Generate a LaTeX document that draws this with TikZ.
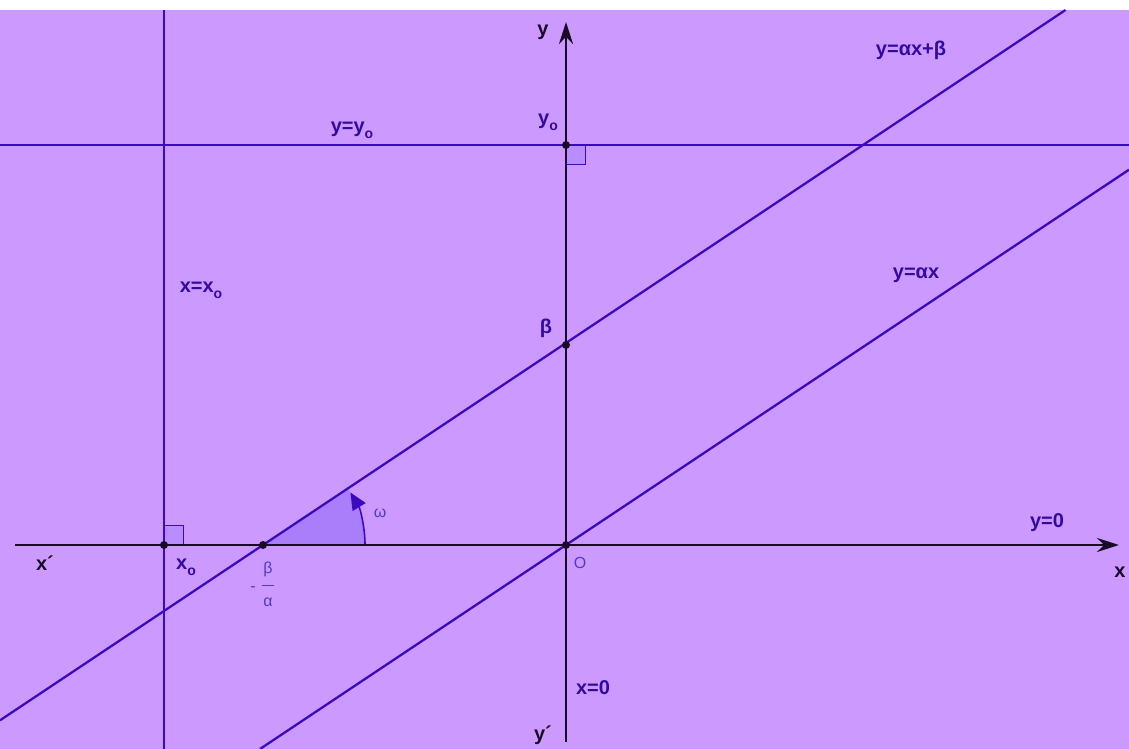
\documentclass[tikz,border=0pt]{standalone}
\usepackage{fontspec}
\setmainfont{Liberation Sans}
\usetikzlibrary{arrows.meta}
\definecolor{bgpurple}{RGB}{204,153,255}
\definecolor{linblue}{RGB}{60,10,190}
\definecolor{labblue}{RGB}{50,10,160}
\definecolor{lightblue}{RGB}{80,60,200}
\definecolor{axisdark}{RGB}{25,10,40}
\definecolor{anglefill}{RGB}{170,125,250}
\definecolor{sqfill}{RGB}{185,140,255}
\newcommand\subo{\raisebox{-0.55ex}{\fontsize{14}{14}\selectfont o}}
\tikzset{
  lin/.style={draw=linblue, line width=2.3pt},
  axisline/.style={draw=axisdark, line width=2.6pt, -{Stealth[length=22pt,width=14pt]}},
  axlab/.style={text=axisdark, font=\fontsize{20}{23}\selectfont\bfseries, inner sep=0pt},
  blab/.style={text=labblue, font=\fontsize{20}{23}\selectfont\bfseries, inner sep=0pt},
  rlab/.style={text=lightblue, font=\fontsize{16}{18}\selectfont, inner sep=0pt},
  dot/.style={circle, fill=axisdark, inner sep=0pt, minimum size=8pt},
  sq/.style={draw=linblue, fill=sqfill, line width=1pt}
}
\begin{document}
\begin{tikzpicture}[x=1pt,y=1pt]
\useasboundingbox (0,0) rectangle (1129,749);
\fill[white] (0,0) rectangle (1129,749);
\fill[bgpurple] (0,0) rectangle (1129,739);
% coordinates
\coordinate (xl) at (15,204);
\coordinate (xr) at (1119,204);
\coordinate (yb) at (566,7);
\coordinate (yt) at (566,727);
\coordinate (hl) at (0,604);
\coordinate (hr) at (1129,604);
\coordinate (vb) at (164,0);
\coordinate (vt) at (164,739);
\coordinate (l1a) at (0,28.7);
\coordinate (l1b) at (1065.5,739);
\coordinate (l2a) at (260,0);
\coordinate (l2b) at (1129,579.3);
\coordinate (P) at (263,204);
% angle sector
\fill[anglefill] (P) -- (365,204) arc[start angle=0,end angle=33.69,radius=102] -- cycle;
% right angle squares
\filldraw[sq] (164,204) rectangle (183,223);
\filldraw[sq] (566,604) rectangle (585,584);
% lines
\draw[lin] (hl) -- (hr);
\draw[lin] (vb) -- (vt);
\draw[lin] (l1a) -- (l1b);
\draw[lin] (l2a) -- (l2b);
% angle arc with arrow
\draw[draw=linblue, line width=1.6pt, -{Triangle[length=17pt,width=15pt]}] (365,204) arc[start angle=0,end angle=31,radius=102];
% axes
\draw[axisline] (xl) -- (xr);
\draw[axisline] (yb) -- (yt);
% points
\node[dot] (A) at (164,204) {};
\node[dot] (B) at (P) {};
\node[dot] (O) at (566,204) {};
\node[dot] (Bt) at (566,404) {};
\node[dot] (Yo) at (566,604) {};
% axis labels
\node[axlab] (lxp) at (45,186) {x´};
\node[axlab] (lx) at (1120,177) {x};
\node[axlab] (ly) at (543,717) {y};
\node[axlab] (lyp) at (543,14) {y´};
% blue labels
\node[rlab] (lO) at (580,186) {O};
\node[blab] (lx0) at (593,61) {x=0};
\node[blab] (ly0) at (1047,226) {y=0};
\node[blab] (lxo) at (186,182) {x\subo};
\node[blab] (lbeta) at (546,421) {β};
\node[blab] (lyo) at (548,627) {y\subo};
\node[blab] (lyyo) at (352,619) {y=y\subo};
\node[blab] (lxxo) at (201,459) {x=x\subo};
\node[blab] (l1) at (911,699) {y=αx+β};
\node[blab] (l2) at (916,474) {y=αx};
\node[rlab] (lw) at (380,236) {ω};
% -beta/alpha
\node[rlab] (fb) at (268,180) {β};
\node[rlab] (fa) at (268,147) {α};
\draw[lightblue, line width=1pt] (262,163) -- (274,163);
\node[rlab] (fm) at (253,160) {-};
\end{tikzpicture}
\end{document}
